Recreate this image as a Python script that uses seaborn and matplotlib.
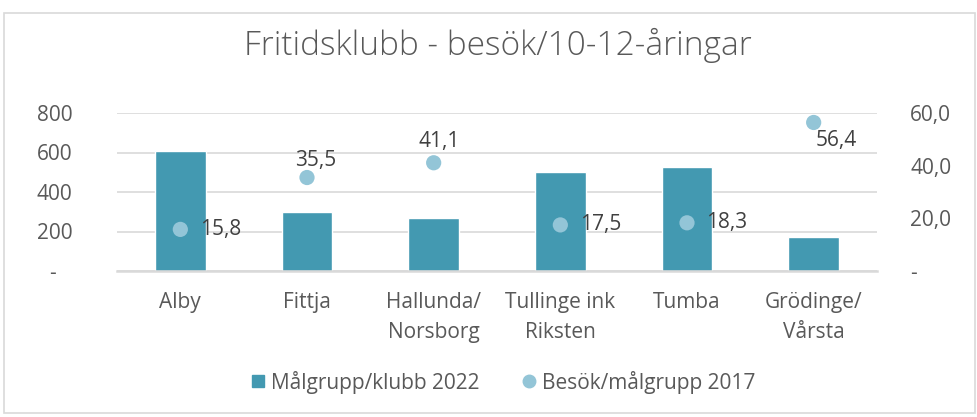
import matplotlib
matplotlib.use("Agg")
import matplotlib.pyplot as plt
import seaborn as sns
import pandas as pd
from matplotlib.lines import Line2D
from matplotlib.patches import Rectangle

# ---- data ----
categories = ["Alby", "Fittja", "Hallunda/\nNorsborg", "Tullinge ink\nRiksten", "Tumba", "Grödinge/\nVårsta"]
malgrupp_2022 = [610, 300, 270, 500, 525, 170]
besok_2017 = [15.8, 35.5, 41.1, 17.5, 18.3, 56.4]
left_ticks = [0, 200, 400, 600, 800]
left_tick_labels = ["-   ", "200", "400", "600", "800"]
right_ticks = [0, 20, 40, 60]
right_tick_labels = ["-", "20,0", "40,0", "60,0"]
series_names = ["Målgrupp/klubb 2022", "Besök/målgrupp 2017"]
title = "Fritidsklubb - besök/10-12-åringar"

# label placement for the dot labels (style only)
label_place = ["right", "above1", "above2", "right", "right", "below"]

BAR = "#4399B1"
DOT = "#93C5D7"
GRID = "#D9D9D9"
TICK = "#595959"
LBL = "#404040"
FS = 15

sns.set_theme(style="white")
plt.rcParams["font.family"] = ["Open Sans", "DejaVu Sans"]

W, H = 977, 417
fig = plt.figure(figsize=(W / 100, H / 100), dpi=100)
ax = fig.add_axes([117 / W, 1 - 271 / H, 760 / W, 158 / H])

df = pd.DataFrame({"kat": categories, "mal": malgrupp_2022, "besok": besok_2017})

sns.barplot(data=df, x="kat", y="mal", color=BAR, saturation=1, width=0.4, ax=ax, zorder=2)
ax.set_ylim(0, 800)
ax.set_yticks(left_ticks)
ax.set_yticklabels(left_tick_labels)
ax.set_xlim(-0.5, len(categories) - 0.5)
ax.grid(axis="y", color=GRID, lw=1.2, zorder=0)
ax.set_axisbelow(True)
for s in ["top", "left", "right"]:
    ax.spines[s].set_visible(False)
ax.spines["bottom"].set_color(GRID)
ax.spines["bottom"].set_linewidth(1.8)
ax.spines["bottom"].set_zorder(3)
ax.tick_params(axis="y", length=0, pad=32, labelsize=FS, labelcolor=TICK)
ax.tick_params(axis="x", length=0, pad=15, labelsize=FS, labelcolor=TICK)
for t in ax.get_xticklabels():
    t.set_linespacing(1.6)
    t.set_ha("center")
ax.set_xlabel("")
ax.set_ylabel("")

ax2 = ax.twinx()
sns.scatterplot(data=df, x="kat", y="besok", color=DOT, s=120, edgecolor="none", ax=ax2, zorder=4, legend=False)
ax2.set_ylim(0, 60)
ax2.set_yticks(right_ticks)
ax2.set_yticklabels(right_tick_labels)
for s in ["top", "left", "right", "bottom"]:
    ax2.spines[s].set_visible(False)
ax2.tick_params(axis="y", length=0, pad=24, labelsize=FS, labelcolor=TICK)
ax2.grid(False)
ax2.set_ylabel("")
ax2.set_xlabel("")

offsets = {
    "right": ((14, 0), "left", "center"),
    "above1": ((6, 12), "center", "center"),
    "above2": ((4, 15), "center", "center"),
    "below": ((16, -13), "center", "center"),
}
for i, (v, p) in enumerate(zip(besok_2017, label_place)):
    off, ha, va = offsets[p]
    ax2.annotate(f"{v:.1f}".replace(".", ","), xy=(i, v), xytext=off,
                 textcoords="offset points", ha=ha, va=va, fontsize=FS, color=LBL, zorder=5)

fig.text(0.51, 1 - 45 / H, title, ha="center", va="center", fontsize=24, color=TICK, fontweight="light")

handles = [
    Line2D([], [], marker="s", ls="none", color=BAR, markersize=8),
    Line2D([], [], marker="o", ls="none", color=DOT, markersize=9),
]
leg = fig.legend(handles, series_names, loc="center", bbox_to_anchor=(0.515, 1 - 382 / H), ncol=2,
                 frameon=False, handlelength=0.7, handletextpad=0.3, columnspacing=2.0, fontsize=FS)
for t in leg.get_texts():
    t.set_color(TICK)

fig.patches.append(Rectangle((4 / W, 4 / H), 971 / W, (H - 17) / H, transform=fig.transFigure,
                             fill=False, edgecolor=GRID, lw=1.2))

fig.savefig("out.png", dpi=100)
